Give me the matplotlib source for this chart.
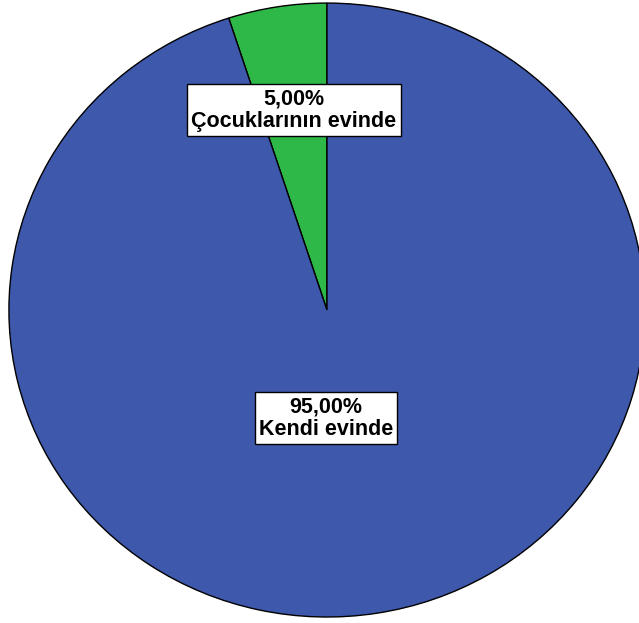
import matplotlib.pyplot as plt

labels = ["Çocuklarının evinde", "Kendi evinde"]
values = [5.0, 95.0]
colors = ["#2EB848", "#3E58AC"]
label_pos = [(-0.104, 0.651), (-0.003, -0.352)]

fig = plt.figure(figsize=(6.39, 6.23), dpi=100)
ax = fig.add_axes([0, 0, 1, 1])

wedges, _ = ax.pie(values, colors=colors, startangle=90, counterclock=True,
                   wedgeprops=dict(edgecolor="black", linewidth=1.0))

for lab, val, (x, y) in zip(labels, values, label_pos):
    txt = ("%.2f%%" % val).replace(".", ",") + "\n" + lab
    ax.text(x, y, txt, ha="center", va="center", fontsize=15.5, fontweight="bold",
            family=["Liberation Sans", "DejaVu Sans"], linespacing=1.1,
            bbox=dict(boxstyle="square,pad=0.2", facecolor="white", edgecolor="black", linewidth=1.0))

ax.set_aspect("auto")
ax.set_xlim(-1.028, 0.981)
ax.set_ylim(-1.0195, 1.010)
ax.axis("off")

fig.savefig("out.png", dpi=100)
